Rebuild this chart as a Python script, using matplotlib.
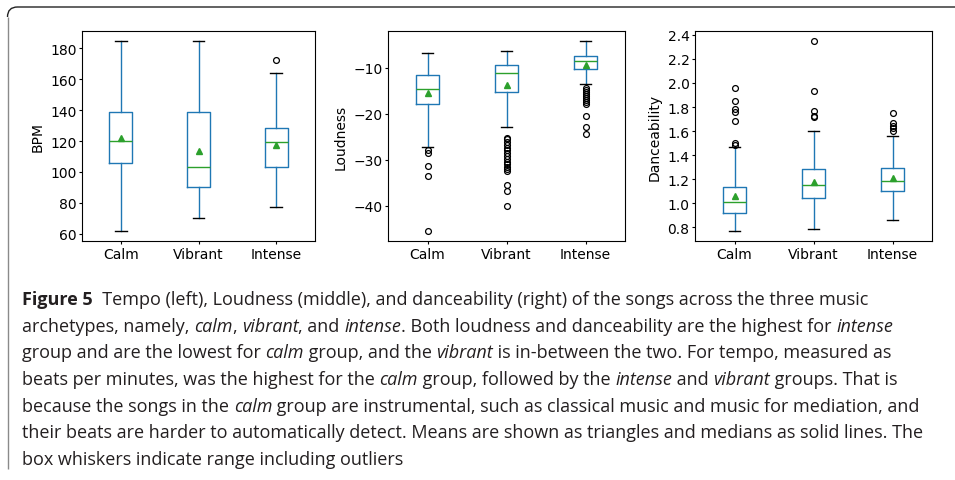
import matplotlib
matplotlib.use("Agg")
import matplotlib.pyplot as plt
from matplotlib.path import Path
from matplotlib.patches import PathPatch
from matplotlib.font_manager import FontProperties
from matplotlib.ticker import MultipleLocator

groups = ["Calm", "Vibrant", "Intense"]

# tempo (BPM)
bpm_med = [120, 103, 119.5]
bpm_q1 = [105.5, 90, 103]
bpm_q3 = [139, 139, 128.5]
bpm_lo = [61.5, 70, 77.5]
bpm_hi = [185, 185, 164]
bpm_mean = [122, 113.7, 117.4]
bpm_fliers = [[], [], [172.4]]

# loudness
loud_med = [-14.6, -11.2, -8.5]
loud_q1 = [-17.9, -15.3, -10.3]
loud_q3 = [-11.5, -9.5, -7.5]
loud_lo = [-27.2, -23.0, -13.6]
loud_hi = [-6.7, -6.3, -4.1]
loud_mean = [-15.5, -13.7, -9.5]
loud_fliers = [
    [-27.9, -28.6, -31.4, -33.6, -45.6],
    [-25.2, -25.6, -26.2, -26.8, -27.4, -28.0, -28.6, -29.2, -29.8, -30.4,
     -31.0, -31.5, -32.0, -32.5, -35.6, -36.9, -40.1],
    [-14.5, -14.9, -15.3, -15.7, -16.1, -16.5, -17.0, -17.5, -18.0,
     -20.6, -23.0, -24.5],
]

# danceability
dance_med = [1.013, 1.152, 1.185]
dance_q1 = [0.917, 1.041, 1.100]
dance_q3 = [1.138, 1.285, 1.293]
dance_lo = [0.767, 0.789, 0.858]
dance_hi = [1.466, 1.604, 1.557]
dance_mean = [1.063, 1.179, 1.210]
dance_fliers = [
    [1.959, 1.851, 1.784, 1.757, 1.687, 1.501, 1.487],
    [2.352, 1.934, 1.770, 1.729, 1.718],
    [1.751, 1.668, 1.646, 1.624, 1.601],
]

N, I, B = "normal", "italic", "bold"
caption = [
    [("Figure 5", B), ("  Tempo (left), Loudness (middle), and danceability (right) of the songs across the three music", N)],
    [("archetypes, namely, ", N), ("calm", I), (", ", N), ("vibrant", I), (", and ", N), ("intense", I),
     (". Both loudness and danceability are the highest for ", N), ("intense", I)],
    [("group and are the lowest for ", N), ("calm", I), (" group, and the ", N), ("vibrant", I),
     (" is in-between the two. For tempo, measured as", N)],
    [("beats per minutes, was the highest for the ", N), ("calm", I), (" group, followed by the ", N),
     ("intense", I), (" and ", N), ("vibrant", I), (" groups. That is", N)],
    [("because the songs in the ", N), ("calm", I),
     (" group are instrumental, such as classical music and music for mediation, and", N)],
    [("their beats are harder to automatically detect. Means are shown as triangles and medians as solid lines. The", N)],
    [("box whiskers indicate range including outliers", N)],
]

W, H = 955, 481
fig = plt.figure(figsize=(W / 100, H / 100), dpi=100)


def px(x0, y0, x1, y1):
    # pixel box (top-left origin) -> figure fraction rect
    return [x0 / W, 1 - y1 / H, (x1 - x0) / W, (y1 - y0) / H]


def boxes(ax, med, q1, q3, lo, hi, mean, fliers, ylabel):
    stats = []
    for k in range(len(groups)):
        stats.append(dict(label=groups[k], med=med[k], q1=q1[k], q3=q3[k],
                          whislo=lo[k], whishi=hi[k], mean=mean[k], fliers=fliers[k]))
    ax.bxp(stats, showmeans=True, widths=0.3,
           boxprops=dict(color="C0", lw=1.0),
           whiskerprops=dict(color="C0", lw=1.0),
           capprops=dict(color="k", lw=1.0),
           medianprops=dict(color="C2", lw=1.0),
           meanprops=dict(marker="^", markerfacecolor="C2", markeredgecolor="C2", markersize=5),
           flierprops=dict(marker="o", markerfacecolor="none", markeredgecolor="k",
                           markersize=4.2, markeredgewidth=0.9))
    ax.set_ylabel(ylabel, fontsize=10)
    ax.tick_params(labelsize=10, length=2, pad=2)


ax1 = fig.add_axes(px(82, 32, 315, 242))
boxes(ax1, bpm_med, bpm_q1, bpm_q3, bpm_lo, bpm_hi, bpm_mean, bpm_fliers, "BPM")
ax2 = fig.add_axes(px(388, 32, 625, 242))
boxes(ax2, loud_med, loud_q1, loud_q3, loud_lo, loud_hi, loud_mean, loud_fliers, "Loudness")
ax3 = fig.add_axes(px(695, 32, 932, 242))
boxes(ax3, dance_med, dance_q1, dance_q3, dance_lo, dance_hi, dance_mean, dance_fliers, "Danceability")
ax3.yaxis.set_major_locator(MultipleLocator(0.2))

# frame with a rounded top-left corner
def fpt(x, y):
    return (x / W, 1 - y / H)

left = Path([fpt(7.5, 470), fpt(7.5, 18)], [Path.MOVETO, Path.LINETO])
fig.patches.append(PathPatch(left, transform=fig.transFigure, fill=False, ec="#8a8a8a", lw=1.0))
top = Path([fpt(7.5, 18), fpt(7.5, 8), fpt(17.5, 8), fpt(956, 8)],
           [Path.MOVETO, Path.CURVE3, Path.CURVE3, Path.LINETO])
fig.patches.append(PathPatch(top, transform=fig.transFigure, fill=False, ec="#222222", lw=1.0))

# caption, segment by segment so italics and bold can be mixed
renderer = fig.canvas.get_renderer()
family = ["Open Sans", "DejaVu Sans"]
size = 13.0
x_start, y_first, step = 22, 300, 26.7
for n, line in enumerate(caption):
    x = x_start
    y = y_first + n * step
    for txt, st in line:
        fp = FontProperties(family=family, size=size,
                            style="italic" if st == I else "normal",
                            weight="bold" if st == B else "normal")
        fig.text(x / W, 1 - y / H, txt, fontproperties=fp, color="#231f20", va="center", ha="left")
        w_all = renderer.get_text_width_height_descent("|" + txt + "|", fp, ismath=False)[0]
        w_bar = renderer.get_text_width_height_descent("||", fp, ismath=False)[0]
        x += w_all - w_bar

fig.savefig("out.png", dpi=100)
